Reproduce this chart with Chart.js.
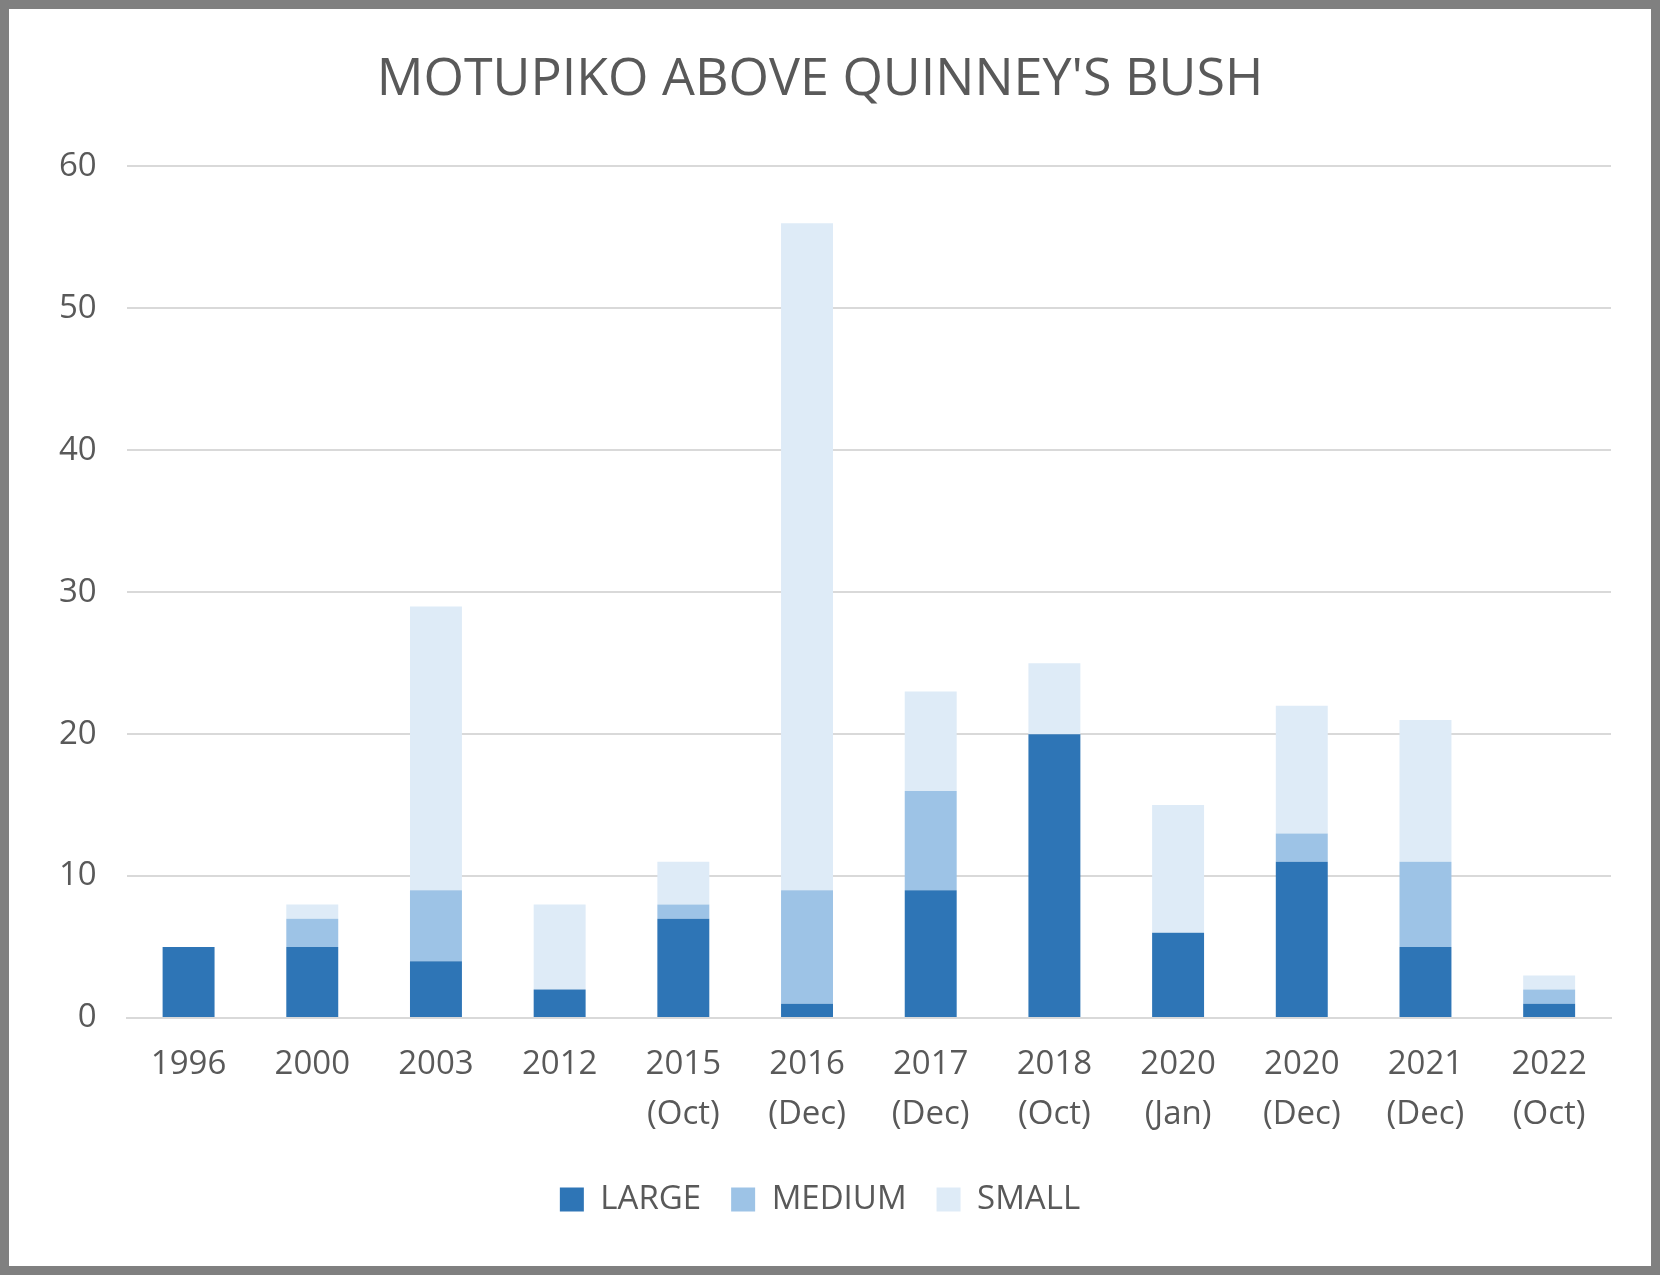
<!DOCTYPE html>
<html>
<head>
<meta charset="utf-8">
<script src="https://cdn.jsdelivr.net/npm/chart.js@4"></script>
<style>
  html, body { margin: 0; padding: 0; background: #fff; }
  #wrap { width: 1660px; height: 1275px; box-sizing: border-box; border: 9px solid #808080; background: #fff; }
</style>
</head>
<body>
<div id="wrap"><canvas id="myChart" width="1642" height="1257"></canvas></div>
<script>
var categories = ["1996", "2000", "2003", "2012", ["2015", "(Oct)"], ["2016", "(Dec)"], ["2017", "(Dec)"],
  ["2018", "(Oct)"], ["2020", "(Jan)"], ["2020", "(Dec)"], ["2021", "(Dec)"], ["2022", "(Oct)"]];
var large = [5, 5, 4, 2, 7, 1, 9, 20, 6, 11, 5, 1];
var medium = [0, 2, 5, 0, 1, 8, 7, 0, 0, 2, 6, 1];
var small = [0, 1, 20, 6, 3, 47, 7, 5, 9, 9, 10, 1];

document.addEventListener("DOMContentLoaded", function () {
  var ctx = document.getElementById("myChart").getContext("2d");
  Chart.defaults.font.family = "'Open Sans', 'Noto Sans', sans-serif";
  Chart.defaults.color = "#595959";

  new Chart(ctx, {
    type: "bar",
    data: {
      labels: categories,
      datasets: [
        { label: "LARGE", data: large, backgroundColor: "#2E75B6" },
        { label: "MEDIUM", data: medium, backgroundColor: "#9DC3E6" },
        { label: "SMALL", data: small, backgroundColor: "#DEEBF7" }
      ]
    },
    options: {
      responsive: false,
      animation: false,
      layout: { padding: { left: 20, right: 40, top: 20, bottom: 40 } },
      datasets: { bar: { categoryPercentage: 1, barPercentage: 0.42 } },
      plugins: {
        title: {
          display: true,
          text: "MOTUPIKO ABOVE QUINNEY'S BUSH",
          font: { size: 52, weight: "normal" },
          color: "#595959",
          padding: { top: 20, bottom: 55 }
        },
        legend: {
          position: "bottom",
          labels: { font: { size: 33 }, boxWidth: 24, boxHeight: 24, padding: 30 }
        },
        tooltip: { enabled: false }
      },
      scales: {
        x: {
          stacked: true,
          grid: { display: false },
          border: { color: "#d9d9d9", width: 2 },
          ticks: { font: { size: 33, lineHeight: 1.5 }, maxRotation: 0, padding: 14 }
        },
        y: {
          stacked: true,
          min: 0, max: 60,
          ticks: { stepSize: 10, font: { size: 33 }, padding: 30 },
          grid: { color: "#d9d9d9", lineWidth: 2, drawTicks: false },
          border: { display: false }
        }
      }
    }
  });
});
</script>
</body>
</html>
